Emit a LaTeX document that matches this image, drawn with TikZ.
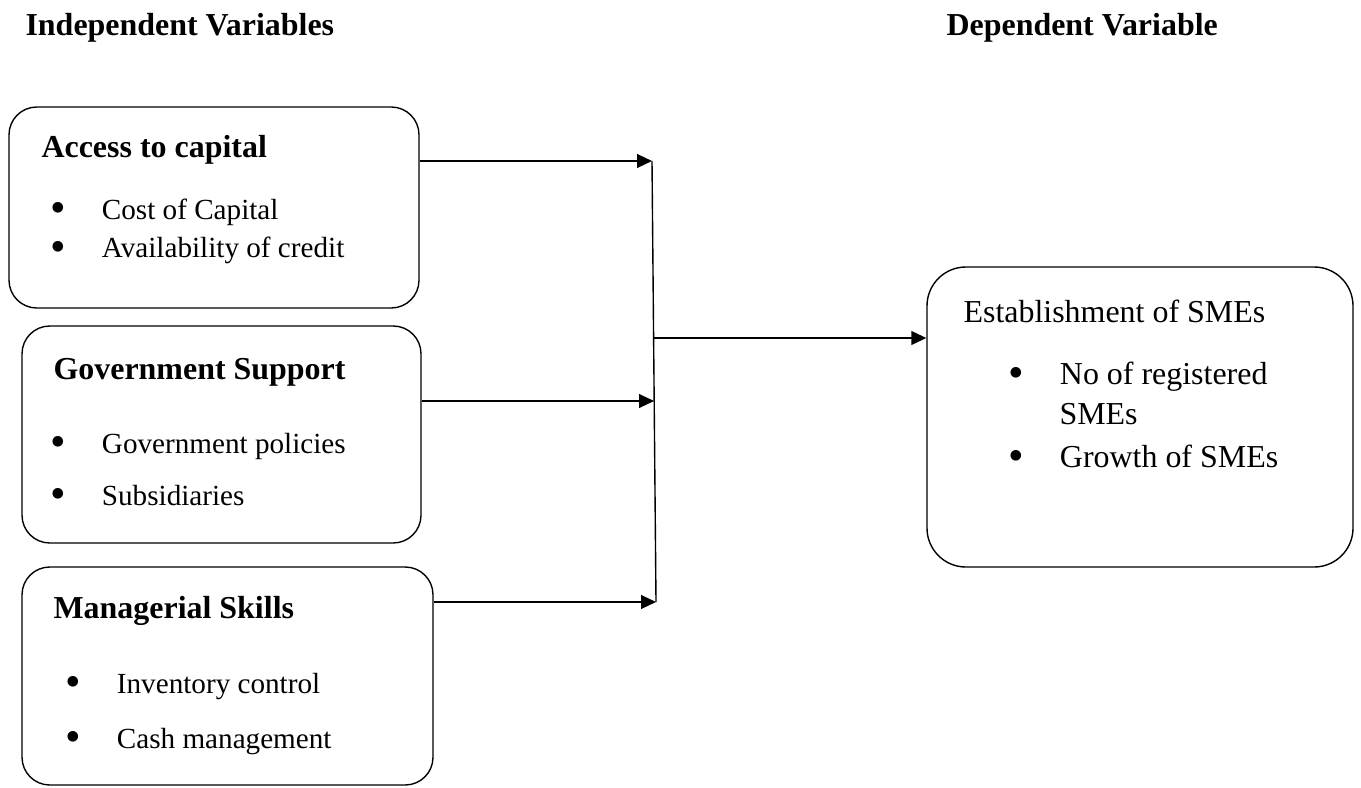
\documentclass[tikz,border=0pt]{standalone}
\usepackage{fontspec}
\setmainfont{Liberation Serif}
\usetikzlibrary{arrows.meta, positioning, fit}

\tikzset{
    varbox/.style={draw, rounded corners=10pt, line width=0.5pt, inner sep=0pt},
    heading/.style={anchor=base west, inner sep=0pt, font=\fontsize{11.5}{14}\selectfont\bfseries},
    entry/.style={anchor=base west, inner sep=0pt, font=\fontsize{10.5}{14}\selectfont},
    outcome/.style={entry, font=\fontsize{11.5}{14}\selectfont},
    link/.style={line width=0.5pt, -{Triangle[length=5.4pt, width=5pt]}}
}
\newcommand{\itm}[1]{\makebox[18.5pt][l]{\smash{\raisebox{-1.3pt}{\fontsize{16}{14}\selectfont\textbullet}}}#1}

\begin{document}
\begin{tikzpicture}[x=0.36pt, y=-0.36pt]
        \useasboundingbox (0, 0) rectangle (1361, 788);

        \node[heading] (indep) at (25, 36) {Independent Variables};
        \node[heading] (dep) at (946, 36) {Dependent Variable};

        \node[varbox, fit={(9, 107) (419, 308)}] (access) {};
        \node[heading] (accesstitle) at (41, 158) {Access to capital};
        \node[entry] (cost) at (50, 219) {\itm{Cost of Capital}};
        \node[entry] (credit) at (50, 258) {\itm{Availability of credit}};

        \node[varbox, fit={(22, 326) (421, 543)}] (gov) {};
        \node[heading] (govtitle) at (53, 379) {Government Support};
        \node[entry] (policy) at (50, 453) {\itm{Government policies}};
        \node[entry] (subsid) at (50, 505) {\itm{Subsidiaries}};

        \node[varbox, fit={(22, 567) (433, 785)}] (skill) {};
        \node[heading] (skilltitle) at (53, 618) {Managerial Skills};
        \node[entry] (stock) at (65, 693) {\itm{Inventory control}};
        \node[entry] (cash) at (65, 748) {\itm{Cash management}};

        \node[varbox, rounded corners=14pt, fit={(927, 267) (1353, 567)}] (estab) {};
        \node[outcome] (estabtitle) at (963, 322) {Establishment of SMEs};
        \node[outcome] (regist) at (1008, 384) {\itm{No of registered}};
        \node[outcome] (regist2) at (1059, 424) {SMEs};
        \node[outcome] (growth) at (1008, 467) {\itm{Growth of SMEs}};

        \coordinate (a1) at (652, 161);
        \coordinate (a2) at (654, 401);
        \coordinate (a3) at (656, 602);
        \coordinate (join) at (654, 338);

        \draw[line width=0.5pt] (a1) -- (a3);
        \draw[link] (access.east |- a1) -- (a1);
        \draw[link] (gov.east |- a2) -- (a2);
        \draw[link] (skill.east |- a3) -- (a3);
        \draw[link] (join) -- (join -| estab.west);
    \end{tikzpicture}
\end{document}
